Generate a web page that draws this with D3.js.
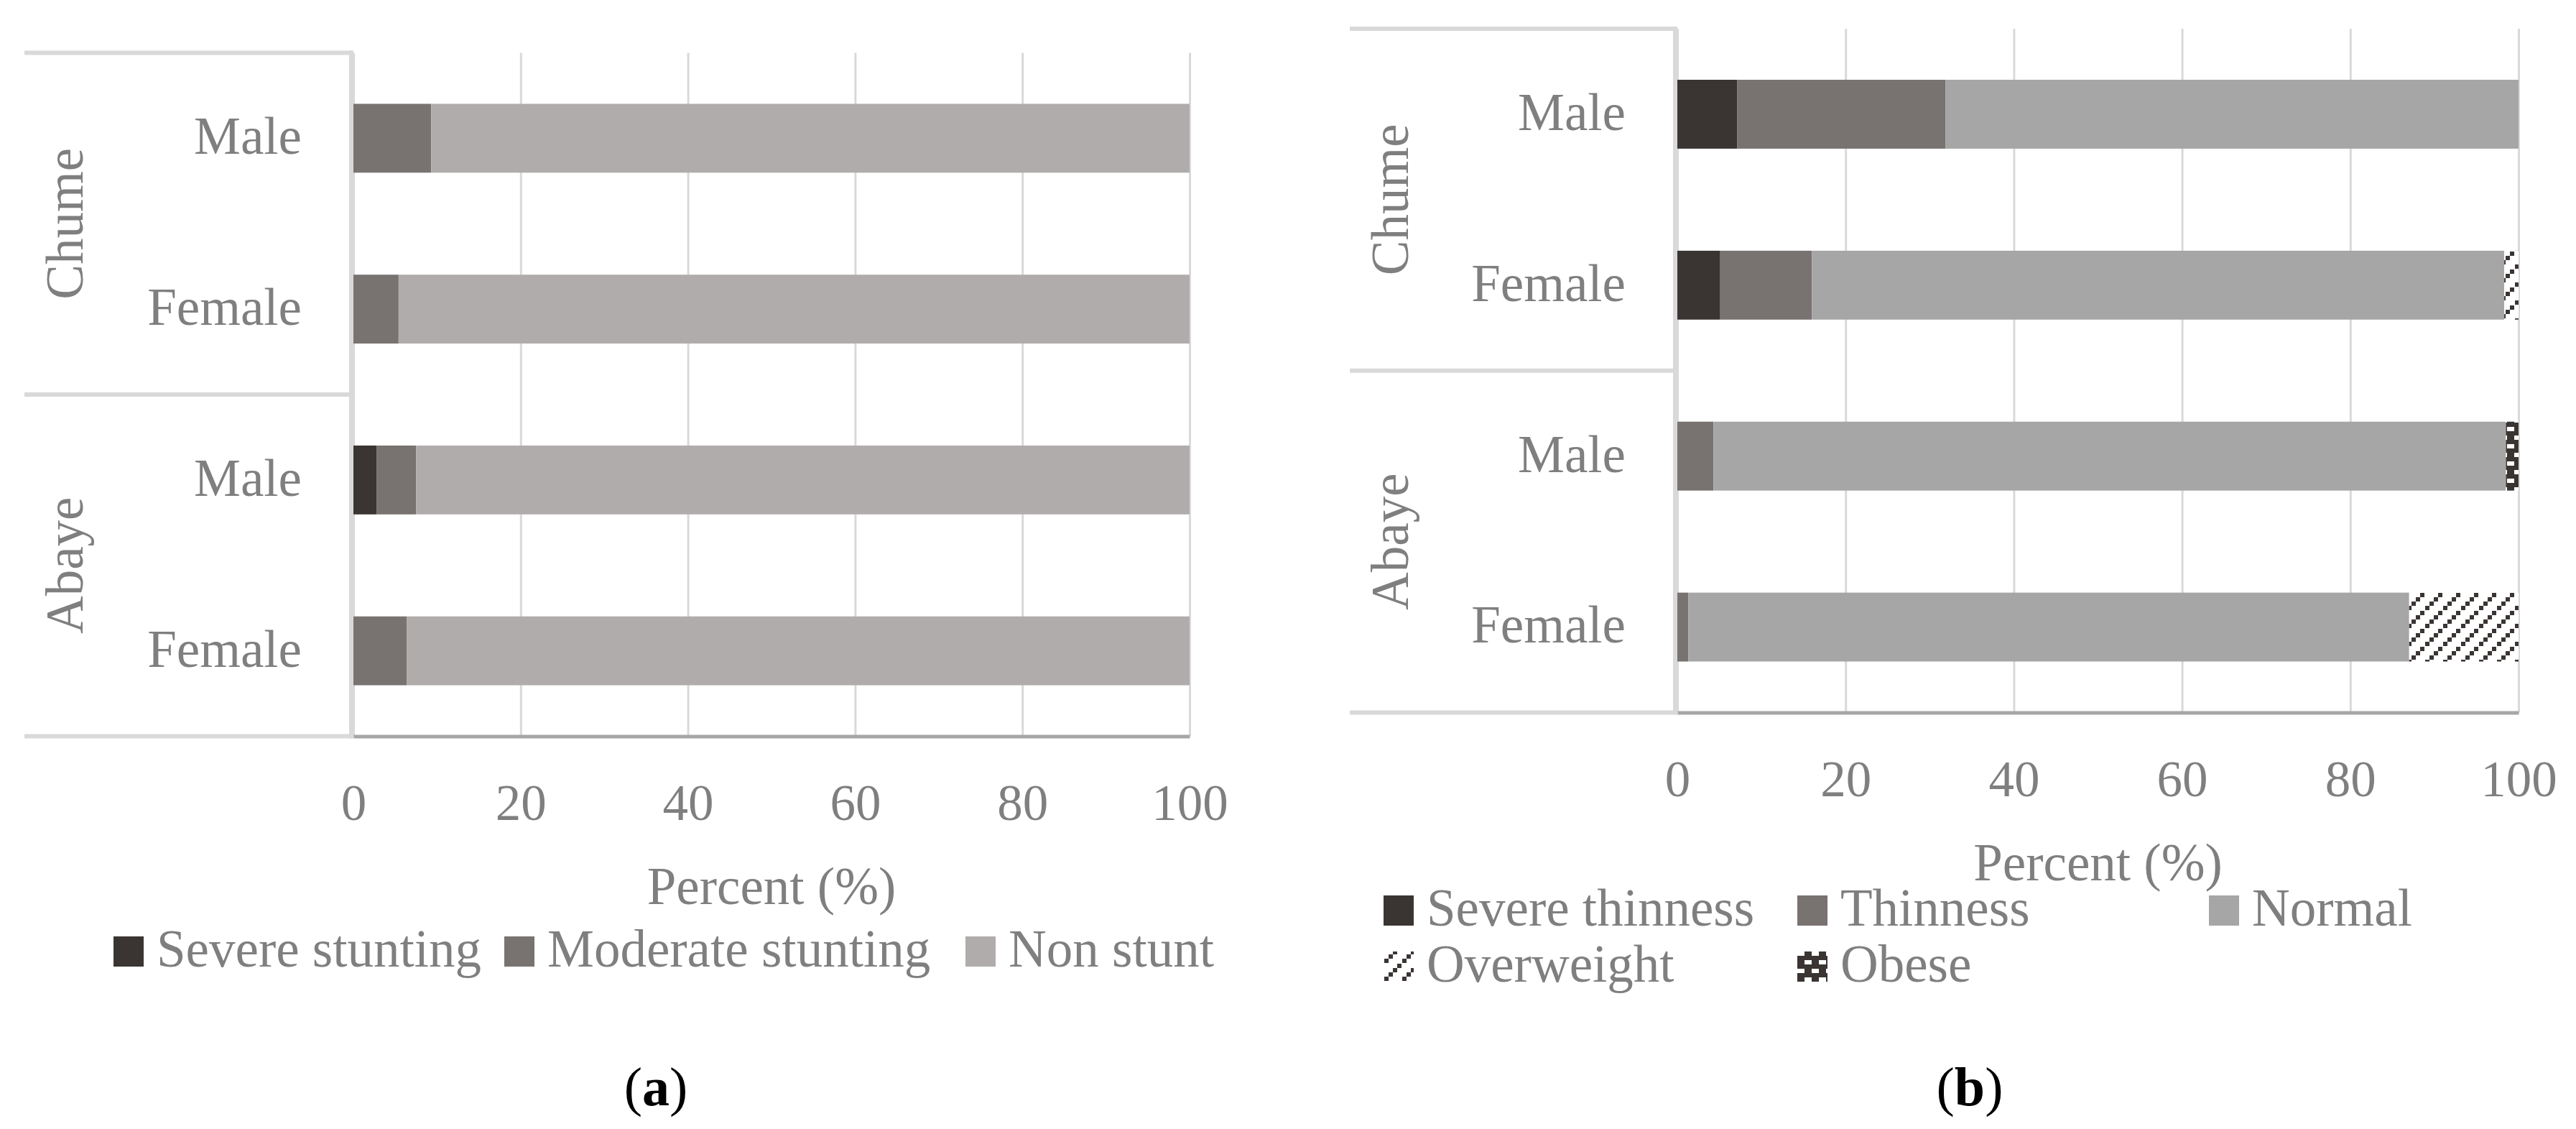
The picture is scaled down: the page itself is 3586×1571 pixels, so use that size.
<!DOCTYPE html>
<html>
<head>
<meta charset="utf-8">
<title>Stunting and thinness by site and sex</title>
<script src="https://cdn.jsdelivr.net/npm/d3@7"></script>
<style>
body { margin: 0; background: #fff; }
svg text { font-family: 'Liberation Serif', 'Times New Roman', serif; }
</style>
</head>
<body>
<div class="chart-area"></div>
<script>
var rowSites = ["Chume", "Chume", "Abaye", "Abaye"];
var rowSexes = ["Male", "Female", "Male", "Female"];
var ticks = [0, 20, 40, 60, 80, 100];

// panel (a): height-for-age
var stuntKeys = ["Severe stunting", "Moderate stunting", "Non stunt"];
var stuntSevere = [0, 0, 2.8, 0];
var stuntModerate = [9.3, 5.4, 4.7, 6.4];
var stuntNon = [90.7, 94.6, 92.5, 93.6];

// panel (b): BMI-for-age
var bmiKeys = ["Severe thinness", "Thinness", "Normal", "Overweight", "Obese"];
var bmiSevere = [7.1, 5.1, 0, 0];
var bmiThin = [24.8, 10.9, 4.3, 1.3];
var bmiNormal = [68.1, 82.3, 94.2, 85.7];
var bmiOver = [0, 1.7, 0, 13.0];
var bmiObese = [0, 0, 1.5, 0];

var textGrey = "#7f7f7f",
    lineGrey = "#d9d9d9",
    labelSize = "73px";

var svg = d3.select(".chart-area")
    .append("svg")
    .attr("width", 3586)
    .attr("height", 1571);

var defs = svg.append("defs");

var over = defs.append("pattern")
    .attr("id", "overweight")
    .attr("patternUnits", "userSpaceOnUse")
    .attr("width", 25)
    .attr("height", 25);
over.append("rect").attr("width", 25).attr("height", 25).attr("fill", "#fff");
[[19, 0], [13, 6], [7, 12], [1, 18]].forEach(function(p) {
    over.append("rect").attr("x", p[0]).attr("y", p[1])
        .attr("width", 6).attr("height", 6).attr("fill", "#3a3533");
});

var obese = defs.append("pattern")
    .attr("id", "obese")
    .attr("patternUnits", "userSpaceOnUse")
    .attr("width", 20)
    .attr("height", 24);
obese.append("rect").attr("width", 20).attr("height", 24).attr("fill", "#3a3533");
obese.append("rect").attr("x", 0).attr("y", 6).attr("width", 10).attr("height", 6).attr("fill", "#fff");
obese.append("rect").attr("x", 10).attr("y", 18).attr("width", 10).attr("height", 6).attr("fill", "#fff");

function makeRows(keys, cols) {
    return rowSexes.map(function(s, i) {
        var r = {id: i, sex: s, site: rowSites[i]};
        keys.forEach(function(k, j) { r[k] = cols[j][i]; });
        return r;
    });
}

function drawChart(opt) {
    var g = svg.append("g");
    var x = d3.scaleLinear().domain([0, 100]).range([opt.x0, opt.x1]);
    var y = d3.scaleBand()
        .domain(opt.rows.map(function(d) { return d.id; }))
        .range([opt.top, opt.bottom])
        .paddingInner(0.597)
        .paddingOuter(0.2985);
    var step = y.step();

    // vertical gridlines
    g.append("g")
        .attr("transform", "translate(0," + opt.top + ")")
        .call(d3.axisBottom(x).tickValues(ticks).tickSize(opt.bottom - opt.top).tickFormat(""))
        .call(function(a) { a.select(".domain").remove(); })
        .selectAll("line")
        .attr("stroke", lineGrey)
        .attr("stroke-width", 3);

    // category box on the left
    var box = g.append("g").attr("stroke", lineGrey).attr("stroke-width", 6);
    box.append("line")
        .attr("x1", opt.boxLeft).attr("x2", opt.x0)
        .attr("y1", opt.top).attr("y2", opt.top);
    box.append("line")
        .attr("x1", opt.x0 - 3).attr("x2", opt.x0 - 3)
        .attr("y1", opt.top - 3).attr("y2", opt.bottom + 3);

    var groups = [];
    opt.rows.forEach(function(d, i) {
        if (!groups.length || groups[groups.length - 1].site !== d.site) {
            groups.push({site: d.site, first: i, last: i});
        } else {
            groups[groups.length - 1].last = i;
        }
    });
    groups.forEach(function(gr) {
        var yb = opt.top + step * (gr.last + 1);
        box.append("line")
            .attr("x1", opt.boxLeft).attr("x2", opt.x0)
            .attr("y1", yb).attr("y2", yb);
    });

    g.selectAll(".site")
        .data(groups)
        .enter()
        .append("text")
        .attr("transform", function(gr) {
            var cy = opt.top + step * (gr.first + gr.last + 1) / 2;
            return "translate(" + (opt.boxLeft + 81) + "," + cy + ") rotate(-90)";
        })
        .attr("text-anchor", "middle")
        .attr("fill", textGrey)
        .style("font-size", labelSize)
        .text(function(gr) { return gr.site; });

    g.selectAll(".sex")
        .data(opt.rows)
        .enter()
        .append("text")
        .attr("x", opt.x0 - 72)
        .attr("y", function(d) { return y(d.id) + y.bandwidth() / 2; })
        .attr("dy", "0.3em")
        .attr("text-anchor", "end")
        .attr("fill", textGrey)
        .style("font-size", labelSize)
        .text(function(d) { return d.sex; });

    // stacked bars
    var series = d3.stack().keys(opt.keys)(opt.rows);
    g.selectAll(".series")
        .data(series)
        .enter()
        .append("g")
        .attr("fill", function(d, i) { return opt.fills[i]; })
        .selectAll("rect")
        .data(function(d) { return d; })
        .enter()
        .append("rect")
        .attr("x", function(d) { return x(d[0]); })
        .attr("width", function(d) { return Math.max(0, x(d[1]) - x(d[0])); })
        .attr("y", function(d) { return y(d.data.id); })
        .attr("height", y.bandwidth());

    // x axis
    var ax = g.append("g")
        .attr("transform", "translate(0," + opt.bottom + ")")
        .call(d3.axisBottom(x).tickValues(ticks).tickSize(0).tickSizeOuter(0));
    ax.select(".domain").attr("stroke", "#a6a6a6").attr("stroke-width", 5);
    ax.selectAll("text")
        .attr("dy", null)
        .attr("y", 116)
        .attr("fill", textGrey)
        .style("font-size", "71px")
        .style("font-family", "'Liberation Serif', serif");

    g.append("text")
        .attr("x", (opt.x0 + opt.x1) / 2)
        .attr("y", opt.bottom + 233)
        .attr("text-anchor", "middle")
        .attr("fill", textGrey)
        .style("font-size", labelSize)
        .text("Percent (%)");

    // legend
    var leg = g.selectAll(".legend")
        .data(opt.keys)
        .enter()
        .append("g")
        .attr("transform", function(k, i) {
            var p = opt.legendPos(i);
            return "translate(" + p[0] + "," + p[1] + ")";
        });
    leg.append("rect")
        .attr("y", -42)
        .attr("width", 42)
        .attr("height", 42)
        .attr("fill", function(k, i) { return opt.fills[i]; });
    leg.append("text")
        .attr("x", 60)
        .attr("fill", textGrey)
        .style("font-size", labelSize)
        .text(function(k) { return k; });

    var cap = g.append("text")
        .attr("x", opt.captionX)
        .attr("y", 1538)
        .attr("text-anchor", "middle")
        .attr("fill", "#000")
        .style("font-size", "76px");
    cap.append("tspan").text("(");
    cap.append("tspan").attr("font-weight", "bold").text(opt.caption);
    cap.append("tspan").text(")");
}

var legendAX = [158, 702, 1344];
drawChart({
    rows: makeRows(stuntKeys, [stuntSevere, stuntModerate, stuntNon]),
    keys: stuntKeys,
    fills: ["#3a3533", "#787271", "#b0acab"],
    boxLeft: 34, x0: 492, x1: 1656, top: 73.5, bottom: 1024.5,
    legendPos: function(i) { return [legendAX[i], 1345]; },
    captionX: 913, caption: "a"
});

var legendBX = [1926, 2502, 3075], legendBY = [1288, 1366];
drawChart({
    rows: makeRows(bmiKeys, [bmiSevere, bmiThin, bmiNormal, bmiOver, bmiObese]),
    keys: bmiKeys,
    fills: ["#3a3533", "#787271", "#a6a6a6", "url(#overweight)", "url(#obese)"],
    boxLeft: 1879, x0: 2335, x1: 3506, top: 40, bottom: 991.5,
    legendPos: function(i) { return [legendBX[i % 3], legendBY[Math.floor(i / 3)]]; },
    captionX: 2742, caption: "b"
});
</script>
</body>
</html>
